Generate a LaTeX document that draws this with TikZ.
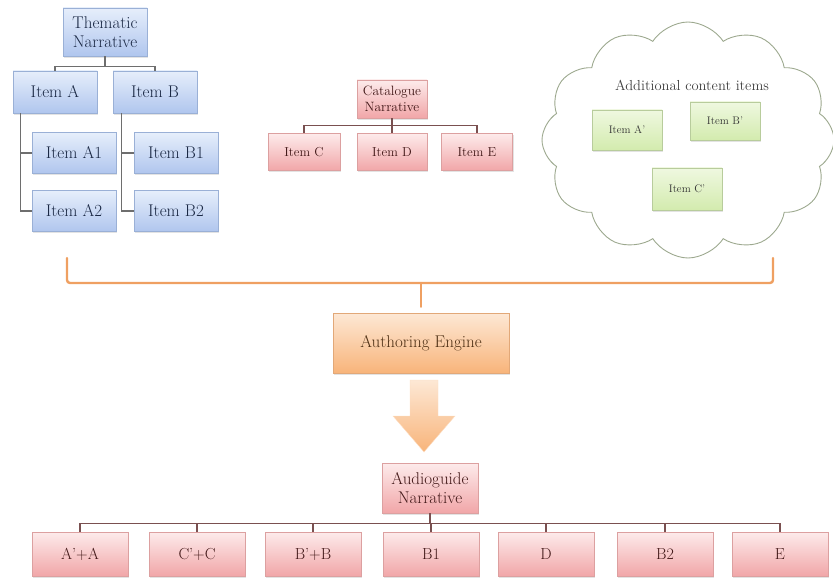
\documentclass[tikz,border=0pt]{standalone}
\usetikzlibrary{shapes.symbols,shadows}
\definecolor{bluetop}{HTML}{E6EEFB}
\definecolor{bluebot}{HTML}{B0C6EE}
\definecolor{bluebd}{HTML}{9AB0D6}
\definecolor{bluetxt}{HTML}{1A2844}
\definecolor{pinktop}{HTML}{FDEBEB}
\definecolor{pinkbot}{HTML}{F1A6A8}
\definecolor{pinkbd}{HTML}{DCA0A0}
\definecolor{pinktxt}{HTML}{421818}
\definecolor{greentop}{HTML}{EFF8E0}
\definecolor{greenbot}{HTML}{D3EBAE}
\definecolor{greenbd}{HTML}{B8CC9C}
\definecolor{orgtop}{HTML}{FDE8D5}
\definecolor{orgbot}{HTML}{F8B47A}
\definecolor{orgbd}{HTML}{E2A878}
\definecolor{orgtxt}{HTML}{4E3014}
\definecolor{brace}{HTML}{EFA062}
\definecolor{conn}{HTML}{6E6E6E}
\definecolor{pconn}{HTML}{7A5050}
\definecolor{cloudbd}{HTML}{9CA88E}
\begin{document}
\begin{tikzpicture}[x=1pt,y=-1pt,
  shad/.style={drop shadow={opacity=0.22,shadow xshift=1.2pt,shadow yshift=-1.8pt}},
  bluebox/.style={draw=bluebd,line width=0.5pt,top color=bluetop,bottom color=bluebot,text=bluetxt,
    font=\fontsize{17}{19}\selectfont,align=center,inner sep=1pt,shad},
  pinkbox/.style={draw=pinkbd,line width=0.5pt,top color=pinktop,bottom color=pinkbot,text=pinktxt,
    align=center,inner sep=1pt,shad},
  greenbox/.style={draw=greenbd,line width=0.5pt,top color=greentop,bottom color=greenbot,text=black!80,
    font=\fontsize{11}{12}\selectfont,minimum width=70pt,inner sep=1pt,shad},
  orgbox/.style={draw=orgbd,line width=0.5pt,top color=orgtop,bottom color=orgbot,text=orgtxt,
    align=center,inner sep=1pt,shad},
  cn/.style={draw=conn,line width=1.3pt},
  pc/.style={draw=pconn,line width=1.2pt},
  br/.style={draw=brace,line width=2.4pt,line cap=round}]
\useasboundingbox (0,0) rectangle (833,580);

% Thematic narrative tree
\node[bluebox,minimum width=84pt,minimum height=48pt] (th) at (105,32) {Thematic\\Narrative};
\node[bluebox,minimum width=84pt,minimum height=42pt] (iA) at (55,92) {Item A};
\node[bluebox,minimum width=84pt,minimum height=42pt] (iB) at (155,92) {Item B};
\node[bluebox,minimum width=84pt,minimum height=41pt] (iA1) at (74,153) {Item A1};
\node[bluebox,minimum width=84pt,minimum height=41pt] (iA2) at (74,211) {Item A2};
\node[bluebox,minimum width=84pt,minimum height=41pt] (iB1) at (176,153) {Item B1};
\node[bluebox,minimum width=84pt,minimum height=41pt] (iB2) at (176,211) {Item B2};
\draw[cn] (th.south) -- ++(0,10) -| (iA.north);
\draw[cn] (th.south) -- ++(0,10) -| (iB.north);
\draw[cn] ([xshift=8pt]iA.south west) |- (iA1.west);
\draw[cn] ([xshift=8pt]iA.south west) |- (iA2.west);
\draw[cn] ([xshift=9pt]iB.south west) |- (iB1.west);
\draw[cn] ([xshift=9pt]iB.south west) |- (iB2.west);

% Catalogue narrative tree
\node[pinkbox,font=\fontsize{13.5}{16}\selectfont,minimum width=70pt,minimum height=38pt] (cat) at (392,99) {Catalogue\\Narrative};
\node[pinkbox,font=\fontsize{13}{15}\selectfont,minimum width=72pt,minimum height=37pt] (iC) at (304,152) {Item C};
\node[pinkbox,font=\fontsize{13}{15}\selectfont,minimum width=70pt,minimum height=37pt] (iD) at (392,152) {Item D};
\node[pinkbox,font=\fontsize{13}{15}\selectfont,minimum width=71pt,minimum height=37pt] (iE) at (477,152) {Item E};
\draw[pc] (cat.south) -- ++(0,7) -| (iC.north);
\draw[pc] (cat.south) -- ++(0,7) -| (iD.north);
\draw[pc] (cat.south) -- ++(0,7) -| (iE.north);

% Cloud
\node[cloud,draw=cloudbd,line width=0.9pt,cloud puffs=12,cloud puff arc=115,aspect=1.25,
  minimum width=292pt,minimum height=236pt] (cl) at (688,140) {};
\node[font=\fontsize{14.5}{16}\selectfont,text=black!75] (addt) at (692,85) {Additional content items};
\node[greenbox,minimum height=40pt] (iAp) at (627,130) {Item A'};
\node[greenbox,minimum height=38pt] (iBp) at (725,121) {Item B'};
\node[greenbox,minimum height=42pt] (iCp) at (687,189) {Item C'};

% Brace
\node[orgbox,font=\fontsize{17}{19}\selectfont,minimum width=176pt,minimum height=60pt] (aut) at (421,343) {Authoring Engine};
\coordinate (bl) at (67,258);
\coordinate (brr) at (773,258);
\coordinate (bm) at (aut.north |- 0,283);
\draw[br,rounded corners=3pt] (bl) |- (bm) -| (brr);
\draw[br] (bm) -- ([yshift=6pt]aut.north);

% Block arrow
\shade[top color=orgtop,bottom color=orgbot,draw=orgtop!80!orgbot,line width=0.4pt]
  (410,380) -- (438,380) -- (438,416) -- (455,416) -- (424,452) -- (393,416) -- (410,416) -- cycle;

% Audioguide narrative tree
\node[pinkbox,font=\fontsize{17}{19}\selectfont,minimum width=96pt,minimum height=50pt] (aud) at (430,488) {Audioguide\\Narrative};
\foreach \n/\x/\t in {b1/80/{A'+A},b2/197/{C'+C},b3/313/{B'+B},b4/431/{B1},b5/546/{D},b6/665/{B2},b7/780/{E}}{
  \node[pinkbox,font=\fontsize{16}{18}\selectfont,minimum width=96pt,minimum height=44pt] (\n) at (\x,554) {\t};
  \draw[pc] (aud.south) -- ++(0,10) -| (\n.north);
}
\end{tikzpicture}
\end{document}
